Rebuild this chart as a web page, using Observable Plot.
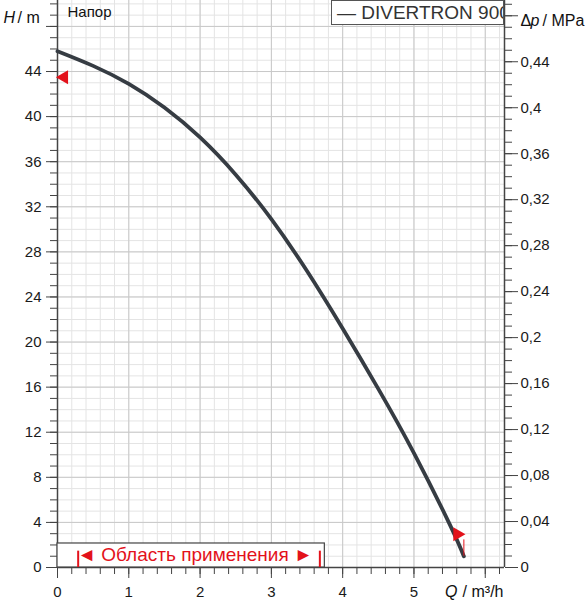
<!DOCTYPE html>
<html><head><meta charset="utf-8">
<script src="https://cdn.jsdelivr.net/npm/d3@7"></script>
<script src="https://cdn.jsdelivr.net/npm/@observablehq/plot@0.6"></script>
<style>
body{margin:0;background:#fff;font-family:"Liberation Sans",Arial,sans-serif;}
#wrap{position:relative;width:588px;height:600px;}
#wrap svg{position:absolute;left:0;top:0;}
#legend{position:absolute;left:331px;top:0px;width:173px;height:25px;border:1px solid #555;overflow:hidden;white-space:nowrap;font-size:19px;color:#333;line-height:23px;padding-left:5px;box-sizing:border-box;background:#fff;z-index:2}
</style></head><body>
<div id="wrap"><div id="legend">— DIVERTRON 900</div></div>
<script>
// ---- data ----
const flow = [0, 0.5, 1, 1.5, 2, 2.5, 3, 3.5, 4, 4.5, 5, 5.5, 5.7];
const head = [45.8, 44.5, 42.9, 40.8, 38.15, 34.85, 30.9, 26.3, 21.2, 15.85, 10.15, 3.85, 1.0];

const limitFlow = [0, 5.7];
const limitHead = [43.5, 2.95];

const appRange = [0.29, 3.68];           // Область применения, m³/h
const appBox = {q: [0, 3.75], h: [0, 2.13]};
const appLabel = "◄ Область применения ►";

const qTicks = [0, 1, 2, 3, 4, 5, 6];
const qTickLabels = ["0", "1", "2", "3", "4", "5", ""];
const hTicks = [0, 4, 8, 12, 16, 20, 24, 28, 32, 36, 40, 44, 48];
const hTickLabels = ["0", "4", "8", "12", "16", "20", "24", "28", "32", "36", "40", "44", ""];
const pTicks = [0, 0.04, 0.08, 0.12, 0.16, 0.2, 0.24, 0.28, 0.32, 0.36, 0.4, 0.44, 0.48];
const pTickLabels = ["0", "0,04", "0,08", "0,12", "0,16", "0,2", "0,24", "0,28", "0,32", "0,36", "0,4", "0,44", ""];

const M_PER_MPA = 101.97;
const xDomain = [0, 6.27];
const yDomain = [0, 50.3];

// ---- build ----
const curve = flow.map((q, i) => ({q, h: head[i]}));
const qMinor = d3.range(0, 32).map(i => i / 5);
const hMinor = d3.range(0, 51);
const pMinor = d3.range(0, 50).map(i => i / 100 * M_PER_MPA);
const red = "#e3121b";
const ink = "#111";

const plot = Plot.plot({
  width: 588,
  height: 600,
  marginTop: 0,
  marginBottom: 33,
  marginLeft: 57,
  marginRight: 84,
  style: {fontFamily: "'Liberation Sans', Arial, sans-serif", fontSize: "15px", color: "#1a1a1a", background: "white"},
  x: {domain: xDomain, label: null},
  y: {domain: yDomain, label: null},
  marks: [
    Plot.gridX(qMinor, {stroke: "#e4e4e4", strokeOpacity: 1}),
    Plot.gridY(hMinor, {stroke: "#e4e4e4", strokeOpacity: 1}),
    Plot.gridX(qTicks, {stroke: "#c9c9c9", strokeOpacity: 1}),
    Plot.gridY(hTicks, {stroke: "#c9c9c9", strokeOpacity: 1}),
    // axes
    Plot.axisX(qMinor, {anchor: "bottom", tickSize: 7, tickFormat: () => "", stroke: "#444", label: null}),
    Plot.axisX(qTicks, {anchor: "bottom", tickSize: 11, tickPadding: 8, stroke: "#444", label: null,
      tickFormat: d => qTickLabels[qTicks.indexOf(d)], fontSize: 15}),
    Plot.axisY(hMinor, {anchor: "left", tickSize: 7, tickFormat: () => "", stroke: "#444", label: null}),
    Plot.axisY(hTicks, {anchor: "left", tickSize: 11, tickPadding: 5, stroke: "#444", label: null,
      tickFormat: d => hTickLabels[hTicks.indexOf(d)], fontSize: 15}),
    Plot.axisY(pMinor, {anchor: "right", tickSize: 7, tickFormat: () => "", stroke: "#444", label: null}),
    Plot.axisY(pTicks.map(p => p * M_PER_MPA), {anchor: "right", tickSize: 13, tickPadding: 3, stroke: "#444", label: null,
      tickFormat: (d, i) => pTickLabels[i], fontSize: 15}),
    Plot.ruleX(xDomain, {stroke: "#444", strokeWidth: 1.5}),
    Plot.ruleY([0], {stroke: "#444", strokeWidth: 1.5}),
    // application range box
    Plot.rect([appBox], {x1: d => d.q[0], x2: d => d.q[1], y1: d => d.h[0], y2: d => d.h[1],
      fill: "white", stroke: "#444", strokeWidth: 1.2}),
    Plot.ruleX(appRange, {y1: 0, y2: 1.45, stroke: red, strokeWidth: 2}),
    Plot.text([appLabel], {x: (appRange[0] + appRange[1]) / 2, y: 1.1, dx: -4, fill: red, fontSize: 19}),
    // curve
    Plot.line(curve, {x: "q", y: "h", stroke: "#363c43", strokeWidth: 3.8, curve: "natural"}),
    // limits
    Plot.ruleX([limitFlow[1]], {y1: 1.0, y2: 2.45, stroke: red, strokeWidth: 1}),
    Plot.dot([0], {x: () => limitFlow[0], y: () => limitHead[0], symbol: "triangle", r: 5.2, fill: red, stroke: "none", rotate: -90, dx: 6.5}),
    Plot.dot([1], {x: () => limitFlow[1], y: () => limitHead[1], symbol: "triangle", r: 5.2, fill: red, stroke: "none", rotate: 90, dx: -6.5}),
    // titles
    Plot.text(["Напор"], {frameAnchor: "top-left", dx: 10, dy: 12, textAnchor: "start", lineAnchor: "middle", fontSize: 15, fill: ink}),
    Plot.text(["H"], {frameAnchor: "top-left", dx: -54, dy: 17, textAnchor: "start", lineAnchor: "middle", fontSize: 16, fontStyle: "italic", fill: ink}),
    Plot.text(["/ m"], {frameAnchor: "top-left", dx: -40, dy: 17, textAnchor: "start", lineAnchor: "middle", fontSize: 16, fill: ink}),
    Plot.text(["Δ"], {frameAnchor: "top-right", dx: 16, dy: 20, textAnchor: "start", lineAnchor: "middle", fontSize: 16, fill: ink}),
    Plot.text(["p"], {frameAnchor: "top-right", dx: 26, dy: 20, textAnchor: "start", lineAnchor: "middle", fontSize: 16, fontStyle: "italic", fill: ink}),
    Plot.text(["/ MPa"], {frameAnchor: "top-right", dx: 38, dy: 20, textAnchor: "start", lineAnchor: "middle", fontSize: 16, fill: ink}),
    Plot.text(["Q"], {frameAnchor: "bottom-right", dx: -47, dy: 24, textAnchor: "end", lineAnchor: "middle", fontSize: 16, fontStyle: "italic", fill: ink}),
    Plot.text(["/ m³/h"], {frameAnchor: "bottom-right", dx: -1, dy: 24, textAnchor: "end", lineAnchor: "middle", fontSize: 16, fill: ink})
  ]
});
document.getElementById("wrap").prepend(plot);
</script>
</body></html>
